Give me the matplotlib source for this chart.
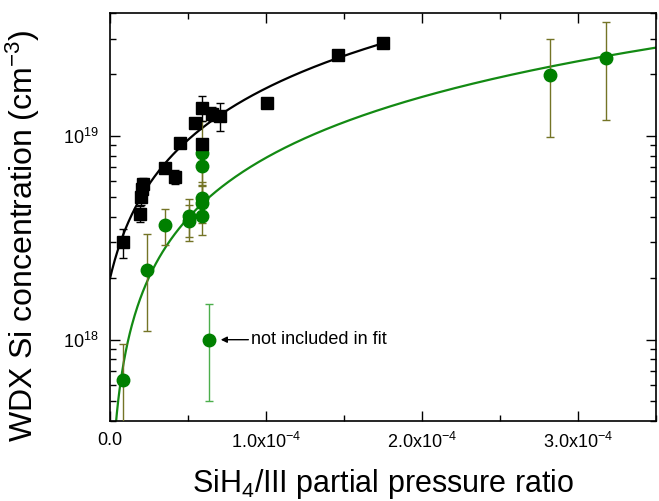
import numpy as np
import matplotlib
matplotlib.use("Agg")
import matplotlib.pyplot as plt
from matplotlib.axes import Axes
from matplotlib.ticker import FixedLocator, LogLocator, NullFormatter

plt.rcParams.update({
    "font.family": ["Liberation Sans", "DejaVu Sans"],
    "mathtext.fontset": "custom",
    "mathtext.rm": "Liberation Sans",
    "mathtext.it": "Liberation Sans:italic",
    "mathtext.bf": "Liberation Sans:bold",
})

# black squares (fitted series)
blk_x = np.array([0.083, 0.19, 0.20, 0.205, 0.21, 0.35, 0.414, 0.446, 0.548,
                  0.592, 0.592, 0.656, 0.707, 1.006, 1.465, 1.75]) * 1e-4
blk_y = np.array([3.0e18, 4.15e18, 5.0e18, 5.5e18, 5.8e18, 6.97e18, 6.3e18, 9.25e18,
                  1.16e19, 1.37e19, 9.1e18, 1.28e19, 1.25e19, 1.44e19, 2.5e19, 2.86e19])
blk_rel_err = np.array([0.16, 0.09, 0.08, 0.08, 0.07, 0.06, 0.08, 0.06, 0.05,
                        0.14, 0.05, 0.08, 0.16, 0.04, 0.04, 0.04])

# green circles (fitted series)
grn_x = np.array([0.085, 0.234, 0.35, 0.505, 0.505, 0.59, 0.59, 0.59, 0.59, 0.59,
                  2.824, 3.18]) * 1e-4
grn_y = np.array([6.37e17, 2.2e18, 3.64e18, 4.05e18, 3.8e18, 8.28e18, 7.13e18,
                  4.95e18, 4.7e18, 4.05e18, 1.99e19, 2.4e19])
grn_err = np.array([3.2e17, 1.1e18, 0.73e18, 0.85e18, 0.76e18, 3.5e18, 1.4e18,
                    1.0e18, 0.95e18, 0.8e18, 1.0e19, 1.2e19])

# excluded point
excl_x = 0.633e-4
excl_y = 1.0e18
excl_err = 5e17

# linear fit parameters (y = a + b*x)
blk_fit = (2.0e18, 1.51e23, 0.0, 1.75e-4)
grn_fit = (1.0e17, 7.7e22, 0.0, 3.5e-4)

x_ticks = [0, 1e-4, 2e-4, 3e-4]
x_ticklabels = ["0.0", r"1.0x10$^{-4}$", r"2.0x10$^{-4}$", r"3.0x10$^{-4}$"]

fig = plt.figure(figsize=(6.59, 5.01), dpi=100)
ax: Axes = fig.add_axes([0.167, 0.160, 0.828, 0.814])

for a, b, x0, x1 in [blk_fit]:
    xs = np.linspace(x0, x1, 400)
    ax.plot(xs, a + b * xs, color="black", lw=1.6, zorder=2)
for a, b, x0, x1 in [grn_fit]:
    xs = np.linspace(x0, x1, 800)
    ax.plot(xs, a + b * xs, color="#138a13", lw=1.6, zorder=2)

ax.errorbar(blk_x, blk_y, yerr=blk_y * blk_rel_err, fmt="s", color="black",
            ms=8.5, ecolor="black", elinewidth=1.0, capsize=3, capthick=1.0, zorder=4)
ax.errorbar(grn_x, grn_y, yerr=grn_err, fmt="o", color="#008000", ms=9,
            ecolor="#747426", elinewidth=1.0, capsize=3, capthick=1.0, zorder=3)
ax.errorbar([excl_x], [excl_y], yerr=[excl_err], fmt="o", color="#008000", ms=9,
            ecolor="#4cae4c", elinewidth=1.0, capsize=3, capthick=1.0, zorder=3)

ax.annotate("not included in fit", xy=(0.71e-4, 1e18), xytext=(0.905e-4, 1e18),
            fontsize=13, va="center", ha="left",
            arrowprops=dict(arrowstyle="-|>", color="black", lw=1.0,
                            shrinkA=0, shrinkB=0, mutation_scale=9))

ax.set_yscale("log")
ax.set_xlim(0, 3.5e-4)
ax.set_ylim(4e17, 4e19)

ax.xaxis.set_major_locator(FixedLocator(x_ticks))
ax.set_xticklabels(x_ticklabels)
ax.xaxis.set_minor_locator(FixedLocator([0.5e-4, 1.5e-4, 2.5e-4, 3.5e-4]))
ax.yaxis.set_major_locator(FixedLocator([1e18, 1e19]))
ax.set_yticklabels([r"10$^{18}$", r"10$^{19}$"])
ax.yaxis.set_minor_locator(LogLocator(base=10, subs=np.arange(2, 10), numticks=20))
ax.yaxis.set_minor_formatter(NullFormatter())

ax.tick_params(which="both", direction="in", top=True, right=True, labelsize=13,
               width=1.0)
ax.tick_params(which="major", length=7, pad=8)
ax.tick_params(which="minor", length=4.5)
for s in ax.spines.values():
    s.set_linewidth(1.2)

ax.set_xlabel(r"SiH$_4$/III partial pressure ratio", fontsize=22, labelpad=11)
ax.set_ylabel(r"WDX Si concentration (cm$^{-3}$)", fontsize=23)
ax.yaxis.set_label_coords(-0.125, 0.455)

fig.savefig("out.png", dpi=100)
